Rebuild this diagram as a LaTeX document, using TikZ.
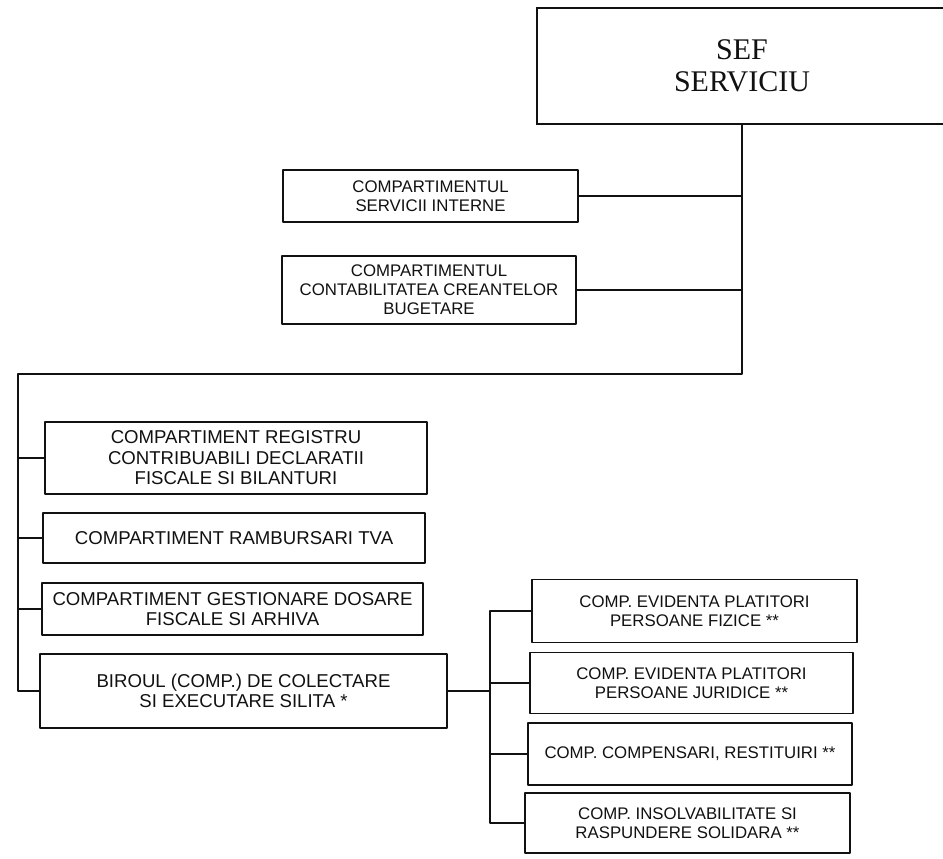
\documentclass[tikz,border=0pt]{standalone}
\usepackage{fontspec}
\setmainfont{Liberation Sans}
\newfontfamily\seffont{Liberation Serif}
\usepackage{xcolor}
\usepackage{tikz}
\definecolor{ink}{HTML}{111111}
\definecolor{paper}{HTML}{FFFFFF}
\tikzset{
  base/.style={draw=ink, line width=1.6pt, line cap=round, line join=round},
  unit/.style={base, align=center, inner sep=2pt, text=ink, font=\fontsize{18.6}{20.5}\selectfont},
  sub/.style={unit, font=\fontsize{16.8}{19}\selectfont},
  chief/.style={draw=ink, line width=2pt, align=center, text=ink, font=\seffont\fontsize{30}{32}\selectfont},
}

\begin{document}
\begin{tikzpicture}[x=1pt, y=-1pt]
\useasboundingbox (0,0) rectangle (943,859);
\fill[paper] (0,0) rectangle (943,859);
% head of service
\node[chief, minimum width=410pt, minimum height=116pt] (sef) at (742,66) {SEF\\SERVICIU};
% staff units
\node[sub, minimum width=295pt, minimum height=52pt] (si) at (430.5,196) {COMPARTIMENTUL\\SERVICII INTERNE};
\node[sub, minimum width=294pt, minimum height=68pt] (ccb) at (429,290) {COMPARTIMENTUL\\CONTABILITATEA CREANTELOR\\BUGETARE};
% line units
\node[unit, minimum width=382pt, minimum height=72pt] (reg) at (236,458) {COMPARTIMENT REGISTRU\\CONTRIBUABILI DECLARATII\\FISCALE SI BILANTURI};
\node[unit, minimum width=382pt, minimum height=50pt] (tva) at (234,538) {COMPARTIMENT RAMBURSARI TVA};
\node[unit, minimum width=381pt, minimum height=52pt] (gest) at (232.5,609) {COMPARTIMENT GESTIONARE DOSARE\\FISCALE SI ARHIVA};
\node[unit, minimum width=407pt, minimum height=74pt] (bir) at (243.5,691) {BIROUL (COMP.) DE COLECTARE\\SI EXECUTARE SILITA *};
% sub-units of the office
\node[sub, minimum width=325pt, minimum height=63pt] (r1) at (694.5,611) {COMP. EVIDENTA PLATITORI\\PERSOANE FIZICE **};
\node[sub, minimum width=323pt, minimum height=61pt] (r2) at (691.5,683) {COMP. EVIDENTA PLATITORI\\PERSOANE JURIDICE **};
\node[sub, minimum width=324pt, minimum height=62pt] (r3) at (690,754) {COMP. COMPENSARI, RESTITUIRI **};
\node[sub, minimum width=325pt, minimum height=60pt] (r4) at (687.5,823) {COMP. INSOLVABILITATE SI\\RASPUNDERE SOLIDARA **};
% connectors
\coordinate (lb) at (18,374);
\coordinate (rb) at (490,0);
\draw[base] (sef.south) |- (lb) |- (bir.west);
\foreach \n in {si,ccb}
  \draw[base] (\n.east) -- (\n.east -| sef.south);
\foreach \n in {reg,tva,gest}
  \draw[base] (\n.west) -- (\n.west -| lb);
\draw[base] (bir.east) -- (bir.east -| rb);
\draw[base] (r1.west) -- (r1.west -| rb) |- (r4.west);
\foreach \n in {r2,r3}
  \draw[base] (\n.west) -- (\n.west -| rb);
\end{tikzpicture}
\end{document}
